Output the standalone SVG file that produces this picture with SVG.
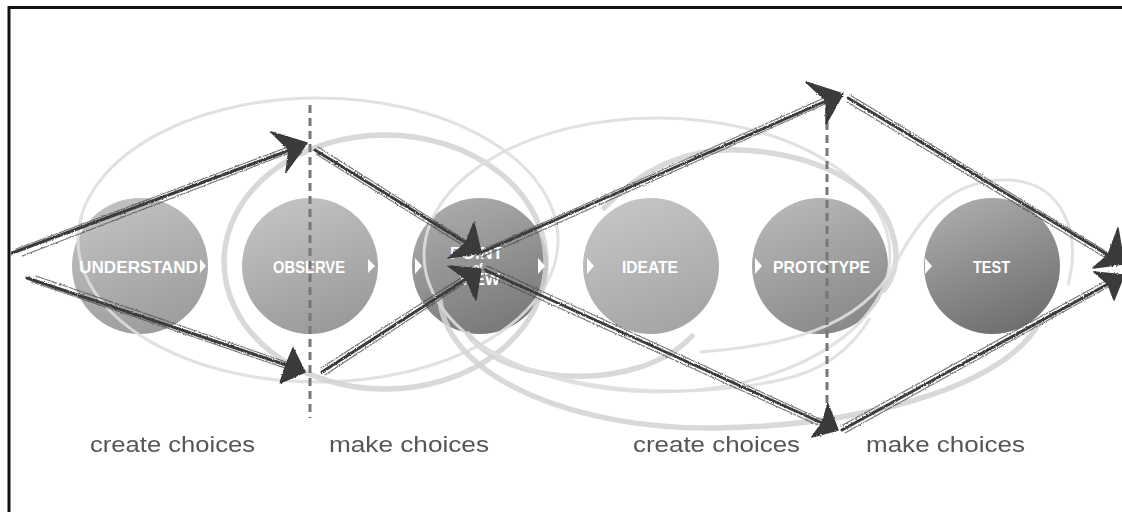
<svg xmlns="http://www.w3.org/2000/svg" width="1122" height="512" viewBox="0 0 1122 512">
  <style>
    .frame { fill: none; stroke: #111; stroke-width: 3; }
    .loop-thin { fill: none; stroke: #dedede; stroke-width: 3; opacity: 0.9; }
    .loop-thick { fill: none; stroke: #d2d2d2; stroke-width: 5.5; opacity: 0.85; stroke-linecap: round; }
    .step-label { font-family: "Liberation Sans", Arial, sans-serif; font-weight: 700; fill: #ffffff; }
    .tri { fill: #ffffff; }
    .divider { stroke: #777; stroke-width: 3; stroke-dasharray: 8 5; fill: none; }
    .phase { font-family: "Liberation Sans", Arial, sans-serif; font-size: 22px; fill: #555; }
    .shaft { fill: none; stroke: #3a3a3a; stroke-width: 3; stroke-linecap: round; }
    .sketch { fill: none; stroke: #474747; stroke-width: 1.1; opacity: 0.75; stroke-linecap: round; }
    .head { fill: #3a3a3a; stroke: #3a3a3a; stroke-width: 1.5; stroke-linejoin: round; }
  </style>
  <defs>
    <linearGradient id="g-understand" x1="0.25" y1="0" x2="0.65" y2="1">
      <stop offset="0" stop-color="#c2c2c2"/><stop offset="1" stop-color="#9c9c9c"/>
    </linearGradient>
    <linearGradient id="g-observe" x1="0.25" y1="0" x2="0.65" y2="1">
      <stop offset="0" stop-color="#c4c4c4"/><stop offset="1" stop-color="#999999"/>
    </linearGradient>
    <linearGradient id="g-pov" x1="0.25" y1="0" x2="0.65" y2="1">
      <stop offset="0" stop-color="#acacac"/><stop offset="1" stop-color="#787878"/>
    </linearGradient>
    <linearGradient id="g-ideate" x1="0.25" y1="0" x2="0.65" y2="1">
      <stop offset="0" stop-color="#c6c6c6"/><stop offset="1" stop-color="#a4a4a4"/>
    </linearGradient>
    <linearGradient id="g-prototype" x1="0.25" y1="0" x2="0.65" y2="1">
      <stop offset="0" stop-color="#b8b8b8"/><stop offset="1" stop-color="#888888"/>
    </linearGradient>
    <linearGradient id="g-test" x1="0.25" y1="0" x2="0.65" y2="1">
      <stop offset="0" stop-color="#acacac"/><stop offset="1" stop-color="#6e6e6e"/>
    </linearGradient>
    <filter id="rough" x="-5%" y="-5%" width="110%" height="110%">
      <feTurbulence type="fractalNoise" baseFrequency="0.9" numOctaves="2" seed="3" result="n"/>
      <feDisplacementMap in="SourceGraphic" in2="n" scale="2.5" xChannelSelector="R" yChannelSelector="G"/>
    </filter>
  </defs>

  <rect width="1122" height="512" fill="#ffffff"/>
  <path class="frame" d="M9 512 V7.5 H1122"/>

  <!-- process steps -->
  <g id="node-understand">
    <circle cx="140" cy="266" r="68" fill="url(#g-understand)"/>
  </g>
  <g id="node-observe">
    <circle cx="310" cy="266" r="68" fill="url(#g-observe)"/>
  </g>
  <g id="node-point-of-view">
    <circle cx="480" cy="266" r="68" fill="url(#g-pov)"/>
  </g>
  <g id="node-ideate">
    <circle cx="651" cy="266" r="68" fill="url(#g-ideate)"/>
  </g>
  <g id="node-prototype">
    <circle cx="820" cy="266" r="68" fill="url(#g-prototype)"/>
  </g>
  <g id="node-test">
    <circle cx="992" cy="266" r="68" fill="url(#g-test)"/>
  </g>

  <!-- iteration loops -->
  <g id="loops">
    <ellipse class="loop-thin" cx="318" cy="240" rx="240" ry="142"/>
    <ellipse class="loop-thick" cx="385" cy="262" rx="161" ry="127"/>
    <ellipse class="loop-thin" cx="657" cy="255" rx="233" ry="137"/>
    <path class="loop-thick" d="M884 290 C898 272 898 250 893 236 C882 188 820 154 740 150 C700 148 650 160 604 208"/>
    <path class="loop-thick" d="M468 334 C508 388 640 392 692 336"/>
    <path class="loop-thin" d="M470 340 C560 400 700 398 780 380 C820 372 850 352 870 318"/>
    <path class="loop-thin" d="M700 352 C780 346 860 330 895 265 C925 205 960 178 1010 180 C1062 183 1082 232 1068 285"/>
    <path class="loop-thick" d="M440 300 C448 380 580 430 716 428 C850 426 1000 392 1040 322"/>
  </g>

  <!-- step labels and flow ticks -->
  <g id="labels">
    <text class="step-label" x="79" y="273" font-size="17" textLength="119" lengthAdjust="spacingAndGlyphs">UNDERSTAND</text>
    <text class="step-label" x="273" y="273" font-size="17" textLength="72" lengthAdjust="spacingAndGlyphs">OBSERVE</text>
    <text class="step-label" x="450" y="259" font-size="16" textLength="53" lengthAdjust="spacingAndGlyphs">POINT</text>
    <text class="step-label" x="478" y="271" font-size="10" text-anchor="middle">of</text>
    <text class="step-label" x="459" y="285" font-size="16" textLength="41" lengthAdjust="spacingAndGlyphs">VIEW</text>
    <text class="step-label" x="622" y="273" font-size="17" textLength="56" lengthAdjust="spacingAndGlyphs">IDEATE</text>
    <text class="step-label" x="773" y="273" font-size="17" textLength="97" lengthAdjust="spacingAndGlyphs">PROTOTYPE</text>
    <text class="step-label" x="973" y="273" font-size="17" textLength="37" lengthAdjust="spacingAndGlyphs">TEST</text>
    <polygon class="tri" points="200,259 206,266 200,273"/>
    <polygon class="tri" points="368,259 375,266 368,273"/>
    <polygon class="tri" points="415,258 422,266 415,274"/>
    <polygon class="tri" points="538,258 545,266 538,274"/>
    <polygon class="tri" points="587,258 594,266 587,274"/>
    <polygon class="tri" points="755,258 762,266 755,274"/>
    <polygon class="tri" points="925,258 932,266 925,274"/>
  </g>

  <!-- phase dividers -->
  <g id="dividers">
    <line class="divider" x1="310" y1="105" x2="310" y2="418"/>
    <line class="divider" x1="827" y1="122" x2="827" y2="420"/>
  </g>

  <!-- diverge / converge arrows -->
  <g id="connectors" filter="url(#rough)">
    <path class="shaft" d="M12 253 L290 150"/>
    <path class="sketch" d="M16 249 L288 147 M22 256 L289 153"/>
    <polygon class="head" points="307,143 286,172 289,150 271,132"/>

    <path class="shaft" d="M27 278 L286 365"/>
    <path class="sketch" d="M32 282 L285 368 M36 276 L286 362"/>
    <polygon class="head" points="305,372 280,383 286,365 293,348"/>

    <path class="shaft" d="M315 150 L466 243"/>
    <path class="sketch" d="M318 147 L465 240 M316 154 L464 246"/>
    <polygon class="head" points="481,253 448,258 466,243 474,222"/>

    <path class="shaft" d="M322 372 L466 279"/>
    <path class="sketch" d="M325 375 L466 282 M321 368 L464 276"/>
    <polygon class="head" points="481,269 476,300 466,279 448,266"/>

    <path class="shaft" d="M478 254 L826 101"/>
    <path class="sketch" d="M482 257 L825 104 M480 251 L824 98"/>
    <polygon class="head" points="843,94 826,124 826,101 806,82"/>

    <path class="shaft" d="M848 98 L1108 255"/>
    <path class="sketch" d="M850 95 L1107 252 M847 102 L1106 258"/>
    <polygon class="head" points="1124,264 1093,268 1108,255 1118,228"/>

    <path class="shaft" d="M485 270 L822 423"/>
    <path class="sketch" d="M487 266 L822 420 M484 274 L820 426"/>
    <polygon class="head" points="838,430 812,437 822,423 828,404"/>

    <path class="shaft" d="M842 430 L1108 284"/>
    <path class="sketch" d="M845 433 L1108 287 M841 426 L1106 281"/>
    <polygon class="head" points="1124,275 1114,300 1108,284 1094,272"/>
  </g>

  <!-- phase captions -->
  <g id="phases">
    <text class="phase" x="90" y="452" textLength="165" lengthAdjust="spacingAndGlyphs">create choices</text>
    <text class="phase" x="329" y="452" textLength="160" lengthAdjust="spacingAndGlyphs">make choices</text>
    <text class="phase" x="633" y="452" textLength="167" lengthAdjust="spacingAndGlyphs">create choices</text>
    <text class="phase" x="866" y="452" textLength="159" lengthAdjust="spacingAndGlyphs">make choices</text>
  </g>
</svg>
